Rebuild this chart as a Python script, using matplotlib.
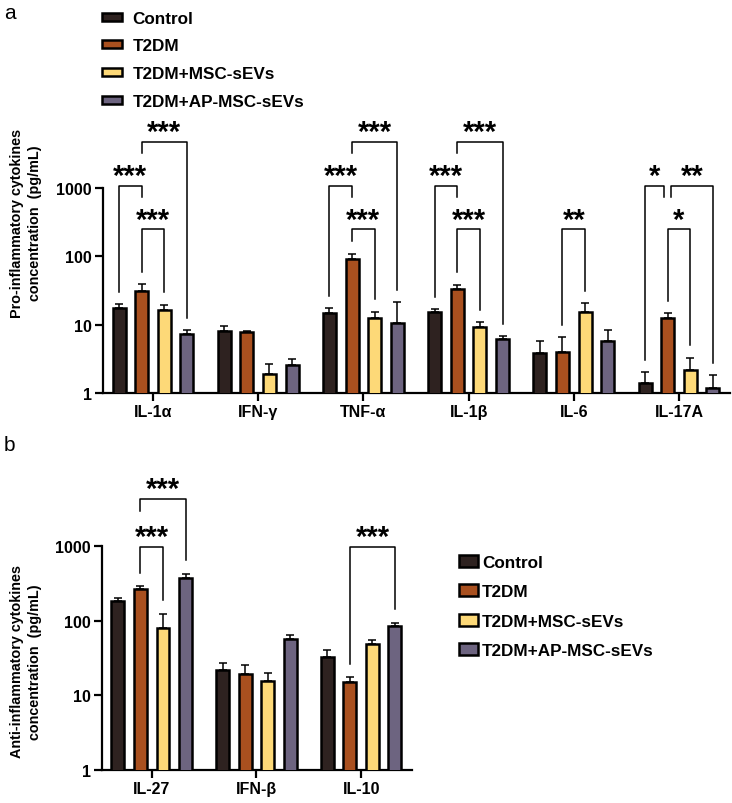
import numpy as np
import matplotlib
matplotlib.use('Agg')
import matplotlib.pyplot as plt
from matplotlib.patches import Patch

plt.rcParams['font.family'] = ['Liberation Sans', 'DejaVu Sans']
plt.rcParams['font.weight'] = 'bold'

# ---- data ----
series = ['Control', 'T2DM', 'T2DM+MSC-sEVs', 'T2DM+AP-MSC-sEVs']
colors = ['#2e2220', '#a9501f', '#fdd978', '#6d6480']

groups_a = ['IL-1α', 'IFN-γ', 'TNF-α', 'IL-1β', 'IL-6', 'IL-17A']
control_a = [17.5, 8.1, 15.0, 15.1, 3.8, 1.42]
t2dm_a = [31.4, 7.7, 91.0, 33.6, 4.0, 12.4]
msc_a = [16.2, 1.9, 12.5, 9.1, 15.5, 2.17]
ap_a = [7.3, 2.6, 10.7, 6.2, 5.8, 1.17]
control_a_err = [2.5, 1.6, 2.4, 1.9, 2.0, 0.61]
t2dm_a_err = [7.5, 0.4, 18.0, 4.9, 2.5, 2.4]
msc_a_err = [3.4, 0.75, 3.0, 1.8, 5.0, 1.13]
ap_a_err = [1.0, 0.55, 10.7, 0.6, 2.5, 0.66]

groups_b = ['IL-27', 'IFN-β', 'IL-10']
control_b = [183, 21.8, 32.6]
t2dm_b = [264, 19.5, 15.2]
msc_b = [80.5, 15.6, 49.3]
ap_b = [377, 56, 85.7]
control_b_err = [16, 5.0, 8.3]
t2dm_b_err = [26, 6.0, 2.2]
msc_b_err = [43.5, 4.4, 5.3]
ap_b_err = [49, 8.0, 8.3]

# (group, bar i, bar j, label, bracket height)
comps_a = [
    (0, 0, 1, '***', 1080), (0, 1, 2, '***', 251), (0, 1, 3, '***', 4760),
    (2, 0, 1, '***', 1080), (2, 1, 2, '***', 251), (2, 1, 3, '***', 4760),
    (3, 0, 1, '***', 1080), (3, 1, 2, '***', 251), (3, 1, 3, '***', 4760),
    (4, 1, 2, '**', 251),
    (5, 0, 1, '*', 1080), (5, 1, 2, '*', 251), (5, 1, 3, '**', 1080),
]
comps_b = [
    (0, 1, 2, '***', 980), (0, 1, 3, '***', 4300), (2, 1, 3, '***', 980),
]

W = 0.124
STEP = 0.215


def draw_panel(ax, groups, means, errs, comps):
    x = np.arange(len(groups))
    for k in range(4):
        pos = x + (k - 1.5) * STEP
        ax.bar(pos, means[k], W, color=colors[k], edgecolor='black',
               linewidth=1.8, zorder=3, label=series[k])
        ax.errorbar(pos, means[k], yerr=[np.zeros(len(groups)), errs[k]],
                    fmt='none', ecolor='black', elinewidth=1.1,
                    capsize=3, capthick=1.1, zorder=2)
    ax.set_yscale('log')
    ax.set_ylim(1, 1000)
    ax.set_yticks([1, 10, 100, 1000])
    ax.set_yticklabels(['1', '10', '100', '1000'])
    ax.minorticks_off()
    ax.set_xticks(x)
    ax.set_xticklabels(groups)
    ax.set_xlim(-0.475, len(groups) - 0.515)
    for s in ['top', 'right']:
        ax.spines[s].set_visible(False)
    for s in ['left', 'bottom']:
        ax.spines[s].set_linewidth(1.6)
    ax.tick_params(axis='both', width=1.6, length=6, labelsize=11.5, pad=2)

    tops = [[m + e for m, e in zip(means[k], errs[k])] for k in range(4)]
    for (g, i, j, lab, lvl) in comps:
        xi = g + (i - 1.5) * STEP
        xj = g + (j - 1.5) * STEP
        # shift ends shared with a bracket at the same height
        for (g2, i2, j2, _, lvl2) in comps:
            if g2 == g and lvl2 == lvl and (i2, j2) != (i, j):
                if j == i2:
                    xj -= 0.035
                if i == j2:
                    xi += 0.035
        bottoms = []
        for b in (i, j):
            nested = any(g2 == g and lvl2 < lvl and b in (i2, j2)
                         for (g2, i2, j2, _, lvl2) in comps)
            if nested:
                bottoms.append(lvl / 10 ** 0.17)
            else:
                bottoms.append(tops[b][g] * 10 ** 0.18)
        ax.plot([xi, xi, xj, xj], [bottoms[0], lvl, lvl, bottoms[1]],
                color='black', lw=1.1, clip_on=False, zorder=4)
        ax.annotate(lab, ((xi + xj) / 2, lvl), xytext=(0, 1),
                    textcoords='offset points', ha='center', va='baseline',
                    fontsize=21, annotation_clip=False)


fig = plt.figure(figsize=(7.32, 8.04), dpi=100)

ax1 = fig.add_axes([103 / 732, 1 - 394 / 804, 627 / 732, 205 / 804])
draw_panel(ax1, groups_a,
           [control_a, t2dm_a, msc_a, ap_a],
           [control_a_err, t2dm_a_err, msc_a_err, ap_a_err], comps_a)

ax2 = fig.add_axes([102 / 732, 1 - 771 / 804, 310 / 732, 224 / 804])
draw_panel(ax2, groups_b,
           [control_b, t2dm_b, msc_b, ap_b],
           [control_b_err, t2dm_b_err, msc_b_err, ap_b_err], comps_b)

handles = [Patch(facecolor=c, edgecolor='black', linewidth=1.8) for c in colors]
fig.legend(handles, series, loc='upper left', bbox_to_anchor=(95 / 732, 1 - 5 / 804),
           frameon=False, fontsize=12.3, handlelength=1.2, handleheight=0.35,
           labelspacing=0.74, handletextpad=0.6, borderaxespad=0)
fig.legend(handles, series, loc='upper left', bbox_to_anchor=(452 / 732, 1 - 549 / 804),
           frameon=False, fontsize=12.3, handlelength=1.15, handleheight=0.7,
           labelspacing=0.84, handletextpad=0.2, borderaxespad=0)

fig.text(26 / 732, 1 - 223 / 804, 'Pro-inflammatory cytokines\nconcentration  (pg/mL)',
         rotation=90, ha='center', va='center', fontsize=10.4, linespacing=1.3)
fig.text(26 / 732, 1 - 662 / 804, 'Anti-inflammatory cytokines\nconcentration  (pg/mL)',
         rotation=90, ha='center', va='center', fontsize=10.4, linespacing=1.3)

fig.text(4 / 732, 1 - 4 / 804, 'a', fontsize=15, fontweight='normal', va='top')
fig.text(4 / 732, 1 - 436 / 804, 'b', fontsize=15, fontweight='normal', va='top')

fig.savefig('out.png', dpi=100)
